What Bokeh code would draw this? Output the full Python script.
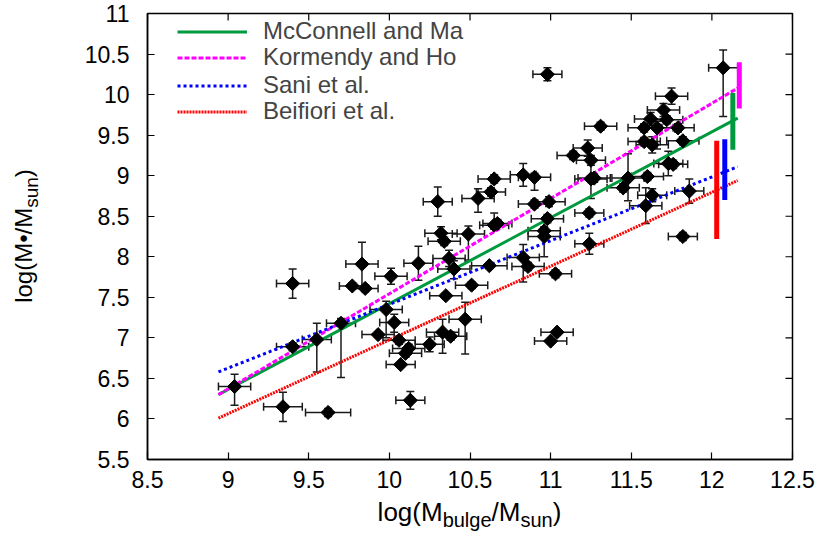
import math
from bokeh.plotting import figure
from bokeh.layouts import row, column
from bokeh.models import (Range1d, FixedTicker, Whisker, TeeHead, Div,
                          ColumnDataSource, Legend, LegendItem)
from bokeh.embed import file_html
from bokeh.resources import INLINE

# ---------------- data ----------------
bulge_mass = [9.04, 9.40, 9.34, 9.62, 9.40, 9.55, 9.70, 9.83, 9.77, 9.85,
              10.01, 9.98, 10.03, 9.93, 10.18, 10.34, 10.32, 10.49, 10.37, 10.40,
              10.35, 10.51, 10.62, 10.83, 10.86, 11.03, 10.96, 10.47, 10.33, 10.38,
              10.25, 10.06, 10.12, 10.10, 10.07, 10.13, 11.00, 11.04, 10.98, 11.14,
              10.30, 10.65, 10.83, 10.90, 10.55, 10.63, 10.90, 10.99, 10.98, 10.65,
              10.67, 10.96, 12.07, 11.31, 11.75, 11.70, 11.62, 11.72, 11.58, 11.66,
              11.79, 11.58, 11.63, 11.82, 11.23, 11.25, 11.73, 11.76, 11.25, 11.48,
              11.60, 11.45, 11.63, 11.86, 11.59, 11.24, 11.82, 11.24, 11.27]
bh_mass = [6.40, 7.67, 6.15, 6.08, 6.89, 6.98, 7.18, 7.91, 7.64, 7.61,
           7.76, 7.35, 7.19, 7.04, 7.92, 8.19, 8.29, 8.28, 7.98, 7.85,
           7.52, 7.65, 7.89, 7.99, 7.88, 7.79, 8.25, 7.23, 7.07, 7.02,
           6.92, 6.97, 6.87, 6.81, 6.67, 6.23, 6.96, 7.07, 10.25, 9.25,
           8.68, 8.96, 9.01, 8.98, 8.72, 8.80, 8.65, 8.68, 8.47, 8.39,
           8.41, 8.32, 10.33, 9.61, 9.98, 9.81, 9.70, 9.69, 9.59, 9.59,
           9.59, 9.42, 9.38, 9.43, 9.34, 9.19, 9.15, 9.14, 8.96, 8.97,
           8.99, 8.85, 8.76, 8.81, 8.63, 8.54, 8.25, 8.16, 8.97]
bulge_err = [0.10, 0.10, 0.12, 0.14, 0.10, 0.09, 0.09, 0.10, 0.08, 0.08,
             0.10, 0.10, 0.09, 0.10, 0.09, 0.10, 0.10, 0.10, 0.10, 0.10,
             0.10, 0.10, 0.11, 0.10, 0.10, 0.10, 0.10, 0.10, 0.10, 0.10,
             0.09, 0.10, 0.10, 0.10, 0.09, 0.09, 0.10, 0.10, 0.09, 0.10,
             0.09, 0.10, 0.08, 0.10, 0.10, 0.09, 0.10, 0.10, 0.10, 0.09,
             0.09, 0.10, 0.09, 0.10, 0.10, 0.10, 0.10, 0.10, 0.10, 0.10,
             0.10, 0.10, 0.10, 0.10, 0.09, 0.09, 0.09, 0.09, 0.10, 0.10,
             0.10, 0.10, 0.09, 0.09, 0.10, 0.09, 0.09, 0.09, 0.10]
bh_err_lo = [0.23, 0.18, 0.18, 0.05, 0.05, 0.40, 0.67, 0.30, 0.04, 0.04,
             0.10, 0.35, 0.12, 0.03, 0.21, 0.05, 0.08, 0.32, 0.10, 0.12,
             0.03, 0.04, 0.03, 0.30, 0.05, 0.05, 0.25, 0.43, 0.26, 0.05,
             0.09, 0.05, 0.05, 0.05, 0.03, 0.11, 0.03, 0.03, 0.08, 0.05,
             0.18, 0.05, 0.14, 0.16, 0.17, 0.05, 0.05, 0.06, 0.05, 0.05,
             0.05, 0.05, 0.60, 0.05, 0.10, 0.08, 0.08, 0.05, 0.05, 0.26,
             0.05, 0.05, 0.10, 0.05, 0.10, 0.06, 0.15, 0.05, 0.24, 0.28,
             0.05, 0.05, 0.08, 0.15, 0.22, 0.05, 0.05, 0.13, 0.05]
bh_err_hi = [0.15, 0.18, 0.18, 0.05, 0.05, 0.20, 0.06, 0.27, 0.04, 0.04,
             0.10, 0.10, 0.10, 0.03, 0.21, 0.05, 0.08, 0.10, 0.10, 0.10,
             0.03, 0.04, 0.03, 0.16, 0.05, 0.05, 0.10, 0.21, 0.16, 0.05,
             0.09, 0.05, 0.05, 0.05, 0.03, 0.11, 0.03, 0.03, 0.08, 0.05,
             0.18, 0.05, 0.14, 0.05, 0.12, 0.05, 0.05, 0.06, 0.05, 0.15,
             0.05, 0.05, 0.22, 0.05, 0.10, 0.08, 0.08, 0.05, 0.05, 0.08,
             0.05, 0.05, 0.10, 0.05, 0.10, 0.06, 0.15, 0.05, 0.24, 0.30,
             0.05, 0.05, 0.08, 0.15, 0.22, 0.05, 0.05, 0.13, 0.05]

fit_names = ["McConnell and Ma", "Kormendy and Ho", "Sani et al.", "Beifiori et al."]
fit_x = [8.94, 12.16]
mcconnell_y = [6.30, 9.71]
kormendy_y = [6.30, 10.08]
sani_y = [6.58, 9.11]
beifiori_y = [6.01, 8.94]

scatter_bar_x = [12.03, 12.08, 12.13, 12.17]
scatter_bar_lo = [8.22, 8.70, 9.32, 9.83]
scatter_bar_hi = [9.43, 9.45, 10.02, 10.40]

x_ticks = [8.5, 9, 9.5, 10, 10.5, 11, 11.5, 12, 12.5]
x_tick_labels = ["8.5", "9", "9.5", "10", "10.5", "11", "11.5", "12", "12.5"]
y_ticks = [5.5, 6, 6.5, 7, 7.5, 8, 8.5, 9, 9.5, 10, 10.5, 11]
y_tick_labels = ["5.5", "6", "6.5", "7", "7.5", "8", "8.5", "9", "9.5", "10", "10.5", "11"]

x_title_html = "log(M<sub>bulge</sub>/M<sub>sun</sub>)"
y_title_html = "log(M\u2022/M<sub>sun</sub>)"

# ---------------- style / layout ----------------
FONT = "Liberation Sans"
GREEN = "#009a3e"
MAGENTA = "#ff00ff"
BLUE = "#0000ff"
RED = "#ff0000"

TOTAL_W, TOTAL_H = 815, 525
YT_W = 45                      # width of y-title strip
XT_H = 26                      # height of x-title strip
W, H = TOTAL_W - YT_W, TOTAL_H - XT_H
BL, BR, BT, BB = 102, 23, 13, 40
FW, FH = W - BL - BR, H - BT - BB
XMIN, XMAX, YMIN, YMAX = 8.5, 12.5, 5.5, 11.0

p = figure(width=W, height=H, output_backend="svg", toolbar_location=None,
           x_range=Range1d(XMIN, XMAX), y_range=Range1d(YMIN, YMAX),
           min_border_left=BL, min_border_right=BR, min_border_top=BT,
           min_border_bottom=BB, background_fill_color="white",
           border_fill_color="white")
p.xgrid.visible = False
p.ygrid.visible = False
p.outline_line_color = "black"
p.outline_line_width = 1.5
p.outline_line_alpha = 1.0


def style_axis(ax, ticks, labels, standoff):
    ax.ticker = FixedTicker(ticks=ticks)
    ax.major_label_overrides = {t: l for t, l in zip(ticks, labels)}
    ax.major_tick_in = 7
    ax.major_tick_out = 0
    ax.minor_tick_in = 0
    ax.minor_tick_out = 0
    ax.major_tick_line_color = "black"
    ax.major_tick_line_width = 1.2
    ax.axis_line_color = "black"
    ax.axis_line_width = 1.5
    ax.major_label_text_font = FONT
    ax.major_label_text_color = "black"
    ax.major_label_text_font_size = "23px"
    ax.major_label_standoff = standoff


style_axis(p.xaxis[0], x_ticks, x_tick_labels, 11)
style_axis(p.yaxis[0], y_ticks, y_tick_labels, 18)

# mirrored inward ticks on the top and right edges
TICK = 7
dy = TICK * (YMAX - YMIN) / FH
dx = TICK * (XMAX - XMIN) / FW
p.segment(x0=x_ticks, x1=x_ticks, y0=[YMAX] * len(x_ticks), y1=[YMAX - dy] * len(x_ticks),
          line_color="black", line_width=1.2)
p.segment(x0=[XMAX] * len(y_ticks), x1=[XMAX - dx] * len(y_ticks), y0=y_ticks, y1=y_ticks,
          line_color="black", line_width=1.2)

# ---------------- fit lines ----------------
r_mc = p.line(fit_x, mcconnell_y, line_color=GREEN, line_width=3)
r_ko = p.line(fit_x, kormendy_y, line_color=MAGENTA, line_width=3, line_dash="5 2")
r_sa = p.line(fit_x, sani_y, line_color=BLUE, line_width=3, line_dash="3 3")
r_be = p.line(fit_x, beifiori_y, line_color=RED, line_width=3, line_dash="2 1")

# intrinsic scatter bars
p.segment(x0=scatter_bar_x, y0=scatter_bar_lo, x1=scatter_bar_x, y1=scatter_bar_hi,
          line_color=[RED, BLUE, GREEN, MAGENTA], line_width=5)

# ---------------- data points with error bars ----------------
src = ColumnDataSource(dict(
    x=bulge_mass, y=bh_mass,
    xlo=[a - e for a, e in zip(bulge_mass, bulge_err)],
    xhi=[a + e for a, e in zip(bulge_mass, bulge_err)],
    ylo=[a - e for a, e in zip(bh_mass, bh_err_lo)],
    yhi=[a + e for a, e in zip(bh_mass, bh_err_hi)],
))
ERR = "#1a1a1a"
wy = Whisker(base="x", lower="ylo", upper="yhi", source=src, dimension="height",
             line_color=ERR, line_width=1.5,
             lower_head=TeeHead(size=8, line_color=ERR, line_width=1.5),
             upper_head=TeeHead(size=8, line_color=ERR, line_width=1.5))
wx = Whisker(base="y", lower="xlo", upper="xhi", source=src, dimension="width",
             line_color=ERR, line_width=1.5,
             lower_head=TeeHead(size=8, line_color=ERR, line_width=1.5),
             upper_head=TeeHead(size=8, line_color=ERR, line_width=1.5))
p.add_layout(wy)
p.add_layout(wx)
p.scatter("x", "y", source=src, marker="square", size=10, angle=math.pi / 4,
          fill_color="black", line_color="black", line_width=1)

# ---------------- legend (one Legend per row, for the tight gnuplot spacing) ----
ROW_PITCH = 27
FIRST_ROW = 18                  # px below the frame top to the first row centre
ITEM_H = 27
for i, (name, rend) in enumerate(zip(fit_names, [r_mc, r_ko, r_sa, r_be])):
    centre = FIRST_ROW + i * ROW_PITCH
    lg = Legend(items=[LegendItem(label=name, renderers=[rend])],
                location=(30, round(FH - centre - ITEM_H / 2)), padding=0, margin=0,
                spacing=0, glyph_width=70, glyph_height=ITEM_H, label_height=ITEM_H,
                label_standoff=16, label_text_font=FONT,
                label_text_font_size="24px", border_line_color=None,
                background_fill_alpha=0)
    p.add_layout(lg)

# ---------------- axis titles (HTML, with subscripts) ----------------
cx = YT_W + BL + FW / 2          # x centre of the frame within the whole layout
half = TOTAL_W - cx
x_title = Div(
    text=(f'<div style="margin-left:{cx - half:.0f}px;width:{2 * half:.0f}px;'
          f'text-align:center;font-family:\'{FONT}\';font-size:26px;'
          f'line-height:{XT_H}px;color:black;white-space:nowrap">'
          + x_title_html.replace("<sub>", '<sub style="font-size:20px">') + '</div>'),
    width=TOTAL_W, height=XT_H, margin=0)
y_title = Div(
    text=(f'<div style="position:absolute;left:0;top:0;width:{FH}px;height:30px;'
          f'line-height:30px;text-align:center;font-family:\'{FONT}\';font-size:24px;'
          f'color:black;white-space:nowrap;transform-origin:0 0;'
          f'transform:translate(9px,{BT + FH}px) rotate(-90deg)">'
          + y_title_html.replace("<sub>", '<sub style="font-size:19px">') + '</div>'),
    width=YT_W, height=H, margin=0)

layout = column(row(y_title, p, spacing=0), x_title, spacing=0)

open("out.html", "w").write(file_html(layout, INLINE))
